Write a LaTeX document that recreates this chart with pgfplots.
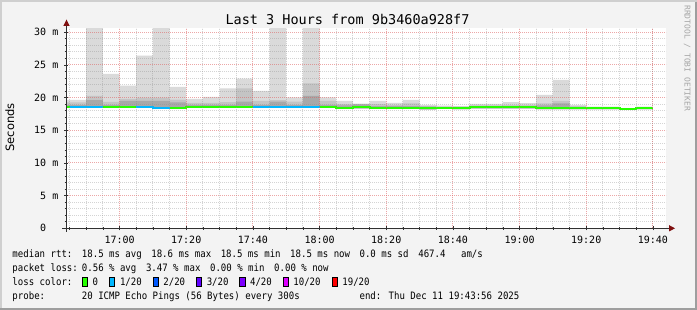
\documentclass[border=0pt]{standalone}
\usepackage{pgfplots}
\pgfplotsset{compat=1.18}
\usepackage{pgfplotstable}
\usepackage{fontspec}
\setmainfont{DejaVu Sans}
\newfontfamily\mono{DejaVu Sans Mono}
\newfontfamily\legmono[FakeStretch=0.887]{DejaVu Sans Mono}
\usetikzlibrary{arrows.meta}

\definecolor{bgc}{HTML}{F3F3F3}
\definecolor{shadeA}{HTML}{CFCFCF}
\definecolor{shadeB}{HTML}{9E9E9E}
\definecolor{gridc}{HTML}{8F8F8F}
\definecolor{mgridc}{HTML}{DE5F5F}
\definecolor{arrowc}{HTML}{7F1010}
\definecolor{axisc}{HTML}{303030}
\definecolor{smokeL}{HTML}{DADADA}
\definecolor{smokeM}{HTML}{C4C4C4}
\definecolor{smokeD}{HTML}{A8A8A8}
\definecolor{loss0}{HTML}{26FF00}
\definecolor{loss1}{HTML}{00B8FF}
\definecolor{loss2}{HTML}{0059FF}
\definecolor{loss3}{HTML}{5E00FF}
\definecolor{loss4}{HTML}{7E00FF}
\definecolor{loss10}{HTML}{DD00FF}
\definecolor{loss19}{HTML}{FF0000}

% smoke bands: t = minutes after 16:00, interval [t, t+5]
\pgfplotstableread{
t hi m d lo
43.93 19.64 19.28 18.90 18.39
45 19.64 19.28 18.90 18.39
50 32 20.25 19.60 18.39
55 23.62 19.33 18.90 18.39
60 21.83 19.79 19.49 18.39
65 26.42 20.00 19.49 18.39
70 32 20.00 19.49 18.26
75 21.63 19.69 19.28 18.26
80 19.79 19.20 18.90 18.39
85 20.10 19.20 18.90 18.39
90 21.42 19.30 18.90 18.39
95 22.90 21.42 19.38 18.39
100 21.02 19.49 18.90 18.39
105 32 19.60 19.38 18.39
110 20.05 19.38 18.90 18.39
115 32 22.19 20.25 18.39
120 20.05 19.49 18.90 18.39
125 19.49 19.00 18.80 18.26
130 19.08 19.00 18.95 18.32
135 19.49 19.00 18.70 18.26
140 19.20 18.90 18.70 18.26
145 19.64 19.10 18.70 18.26
150 18.87 18.70 18.60 18.15
155 18.77 18.60 18.50 18.26
160 18.70 18.60 18.50 18.20
165 19.03 18.80 18.60 18.30
170 19.03 18.80 18.60 18.30
175 19.30 18.90 18.70 18.30
180 19.15 18.90 18.70 18.30
185 20.40 19.13 18.80 18.21
190 22.70 19.50 19.13 18.21
195 18.87 18.70 18.55 18.21
200 18.60 18.50 18.45 18.20
205 18.60 18.50 18.45 18.20
210 18.40 18.35 18.30 18.10
215 18.60 18.50 18.45 18.20
220 18.60 18.50 18.45 18.20
}\smoke

\tikzset{leg/.style={anchor=base west, inner sep=0pt, font=\legmono\fontsize{10.2bp}{12bp}\selectfont},
 sw/.style={draw=black, line width=0.8bp}}

\begin{document}
\begin{tikzpicture}
\useasboundingbox (0,0) rectangle (697bp,310bp);
\fill[bgc] (0,0) rectangle (697bp,310bp);
\draw[shadeA, line width=2bp] (1bp,0) -- (1bp,309bp) -- (697bp,309bp);
\draw[shadeB, line width=2bp] (0,1bp) -- (696bp,1bp) -- (696bp,308bp);

\begin{axis}[
  at={(66bp,81.7bp)}, anchor=south west,
  scale only axis, width=600bp, height=200bp,
  xmin=43.93, xmax=223.93, ymin=0, ymax=30.6,
  axis on top,
  axis background/.style={fill=white},
  axis line style={draw=none},
  xtick={60,80,...,220},
  xticklabels={17:00,17:20,17:40,18:00,18:20,18:40,19:00,19:20,19:40},
  minor xtick={45,50,55,65,70,75,85,90,95,105,110,115,125,130,135,145,150,155,165,170,175,185,190,195,205,210,215,220},
  ytick={0,5,...,30},
  yticklabels={0\hphantom{ m},5 m,10 m,15 m,20 m,25 m,30 m},
  minor ytick={1,2,3,4,6,7,8,9,11,12,13,14,16,17,18,19,21,22,23,24,26,27,28,29},
  grid=both,
  major grid style={draw=mgridc, draw opacity=0.55, line width=0.9bp, dash pattern=on 1bp off 1bp},
  minor grid style={draw=gridc, draw opacity=0.38, line width=0.9bp, dash pattern=on 1bp off 1bp},
  xtick pos=left, ytick pos=left,
  tick align=center,
  major tick length=4bp, minor tick length=3bp,
  tick style={draw=axisc, line width=0.7bp},
  xticklabel style={anchor=base, yshift=-13.7bp, inner sep=0pt, font=\mono\fontsize{10bp}{12bp}\selectfont},
  yticklabel style={anchor=east, xshift=-5.5bp, inner sep=0pt, font=\mono\fontsize{10bp}{12bp}\selectfont},
]
\addplot[fill=smokeL, draw=none, const plot] table[x=t,y=hi]{\smoke} \closedcycle;
\addplot[fill=smokeM, draw=none, const plot] table[x=t,y=m]{\smoke} \closedcycle;
\addplot[fill=smokeD, draw=none, const plot] table[x=t,y=d]{\smoke} \closedcycle;
\addplot[fill=white, draw=none, const plot] table[x=t,y=lo]{\smoke} \closedcycle;
% median rtt, coloured by loss
\addplot[loss0, line width=2bp, const plot] coordinates {(43.93,18.59) (45,18.59)};
\addplot[loss1, line width=2bp, const plot] coordinates {(45,18.59) (50,18.59) (55,18.59)};
\addplot[loss0, line width=2bp, const plot] coordinates {(55,18.59) (60,18.59) (65,18.59)};
\addplot[loss1, line width=2bp, const plot] coordinates {(65,18.59) (70,18.46) (75,18.46)};
\addplot[loss0, line width=2bp, const plot] coordinates {(75,18.46) (80,18.59) (85,18.59) (90,18.59) (95,18.59) (100,18.59)};
\addplot[loss1, line width=2bp, const plot] coordinates {(100,18.59) (105,18.59) (110,18.59) (115,18.59) (120,18.59)};
\addplot[loss0, line width=2bp, const plot] coordinates {(120,18.59) (125,18.46) (130,18.52) (135,18.46) (140,18.46) (145,18.46) (150,18.35) (155,18.46) (160,18.46) (165,18.50) (170,18.50) (175,18.50) (180,18.50) (185,18.41) (190,18.41) (195,18.41) (200,18.46) (205,18.46) (210,18.30) (215,18.46) (220,18.46)};
\end{axis}

% axis lines with arrows
\draw[axisc, line width=1bp] (66.5bp,78bp) -- (66.5bp,284bp);
\draw[axisc, line width=1bp] (62bp,81.7bp) -- (669bp,81.7bp);
\fill[arrowc] (66.5bp,290.5bp) -- (63.3bp,284bp) -- (69.7bp,284bp) -- cycle;
\fill[arrowc] (675bp,81.7bp) -- (669bp,78.5bp) -- (669bp,84.9bp) -- cycle;

% title and labels
\node[anchor=base, inner sep=0pt, font=\mono\fontsize{13.5bp}{16bp}\selectfont] at (347.5bp,285bp) {Last 3 Hours from 9b3460a928f7};
\node[rotate=90, anchor=base, inner sep=0pt, font=\fontsize{11.5bp}{13bp}\selectfont] at (14bp,182.5bp) {Seconds};
\node[rotate=-90, anchor=base west, inner sep=0pt, text=black!35, font=\mono\fontsize{8bp}{9.6bp}\selectfont] at (684.5bp,305bp) {RRDTOOL / TOBI OETIKER};

% legend lines
\node[leg] at (12.3bp,52.4bp) {median rtt:};
\node[leg] at (81.72bp,52.4bp) {18.5 ms avg};
\node[leg] at (151.14bp,52.4bp) {18.6 ms max};
\node[leg] at (220.56bp,52.4bp) {18.5 ms min};
\node[leg] at (289.98bp,52.4bp) {18.5 ms now};
\node[leg] at (359.4bp,52.4bp) {0.0 ms sd};
\node[leg] at (418.14bp,52.4bp) {467.4};
\node[leg] at (460.86bp,52.4bp) {am/s};

\node[leg] at (12.3bp,38.4bp) {packet loss:};
\node[leg] at (81.72bp,38.4bp) {0.56 \% avg};
\node[leg] at (145.8bp,38.4bp) {3.47 \% max};
\node[leg] at (209.88bp,38.4bp) {0.00 \% min};
\node[leg] at (273.96bp,38.4bp) {0.00 \% now};

\node[leg] at (12.3bp,24.4bp) {loss color:};
\filldraw[sw, fill=loss0] (81.9bp,23.6bp) rectangle (87.5bp,32.4bp);
\node[leg] at (92.5bp,24.4bp) {0};
\filldraw[sw, fill=loss1] (109.2bp,23.6bp) rectangle (114.8bp,32.4bp);
\node[leg] at (119.8bp,24.4bp) {1/20};
\filldraw[sw, fill=loss2] (152.9bp,23.6bp) rectangle (158.5bp,32.4bp);
\node[leg] at (163.2bp,24.4bp) {2/20};
\filldraw[sw, fill=loss3] (196.2bp,23.6bp) rectangle (201.8bp,32.4bp);
\node[leg] at (206.6bp,24.4bp) {3/20};
\filldraw[sw, fill=loss4] (239.5bp,23.6bp) rectangle (245.1bp,32.4bp);
\node[leg] at (249.9bp,24.4bp) {4/20};
\filldraw[sw, fill=loss10] (282.9bp,23.6bp) rectangle (288.5bp,32.4bp);
\node[leg] at (293.2bp,24.4bp) {10/20};
\filldraw[sw, fill=loss19] (331.9bp,23.6bp) rectangle (337.5bp,32.4bp);
\node[leg] at (342.2bp,24.4bp) {19/20};

\node[leg] at (12.3bp,10.4bp) {probe:};
\node[leg] at (81.72bp,10.4bp) {20 ICMP Echo Pings (56 Bytes) every 300s};
\node[leg] at (359.4bp,10.4bp) {end: Thu Dec 11 19:43:56 2025};
\end{tikzpicture}
\end{document}
